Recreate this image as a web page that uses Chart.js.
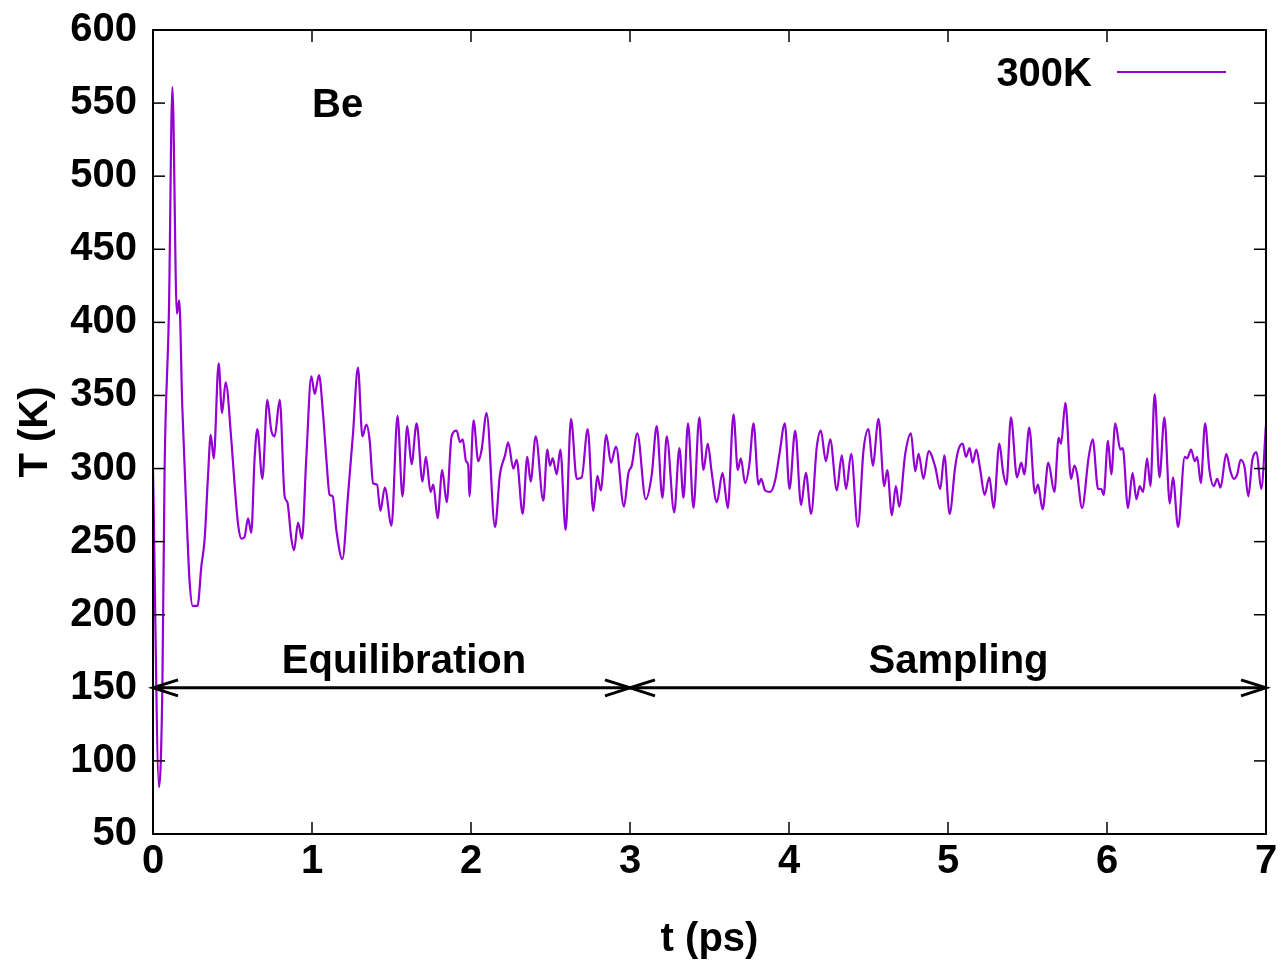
<!DOCTYPE html>
<html>
<head>
<meta charset="utf-8">
<script src="https://cdn.jsdelivr.net/npm/chart.js@4.4.0/dist/chart.umd.min.js"></script>
<style>
body { margin: 0; background: #fff; }
#caja { width: 1282px; height: 961px; }
</style>
</head>
<body>
<div id="caja"><canvas id="grafico"></canvas></div>
<script>
// Datos (t en ps, T en K)
var tiempos = [0.000, 0.038, 0.059, 0.073, 0.100, 0.122, 0.150, 0.165, 0.184, 0.210, 0.230, 0.250, 0.280, 0.304, 0.325, 0.346, 0.363, 0.382, 0.413, 0.434,
    0.457, 0.493, 0.514, 0.535, 0.556, 0.575, 0.598, 0.618, 0.639, 0.656, 0.688, 0.719, 0.744, 0.765, 0.797, 0.828, 0.845, 0.870, 0.887, 0.912,
    0.937, 0.964, 0.996, 1.017, 1.044, 1.069, 1.090, 1.111, 1.130, 1.153, 1.191, 1.226, 1.258, 1.289, 1.317, 1.342, 1.363, 1.384, 1.409, 1.430,
    1.458, 1.500, 1.538, 1.569, 1.599, 1.626, 1.658, 1.695, 1.716, 1.746, 1.763, 1.790, 1.819, 1.847, 1.878, 1.910, 1.931, 1.948, 1.969, 1.983,
    1.990, 2.016, 2.046, 2.067, 2.098, 2.151, 2.182, 2.214, 2.234, 2.266, 2.287, 2.325, 2.354, 2.375, 2.407, 2.455, 2.480, 2.497, 2.514, 2.539,
    2.562, 2.595, 2.629, 2.665, 2.696, 2.734, 2.769, 2.795, 2.816, 2.851, 2.880, 2.912, 2.962, 2.990, 3.011, 3.046, 3.099, 3.137, 3.168, 3.204,
    3.231, 3.278, 3.311, 3.336, 3.365, 3.399, 3.436, 3.462, 3.489, 3.514, 3.546, 3.582, 3.615, 3.651, 3.678, 3.697, 3.724, 3.751, 3.777, 3.808,
    3.825, 3.850, 3.882, 3.913, 3.940, 3.974, 4.003, 4.039, 4.076, 4.106, 4.139, 4.175, 4.200, 4.232, 4.259, 4.301, 4.332, 4.359, 4.391, 4.433,
    4.469, 4.500, 4.527, 4.563, 4.599, 4.618, 4.647, 4.672, 4.693, 4.731, 4.767, 4.794, 4.815, 4.846, 4.878, 4.920, 4.951, 4.977, 5.010, 5.045,
    5.066, 5.092, 5.113, 5.136, 5.155, 5.178, 5.203, 5.230, 5.260, 5.287, 5.323, 5.346, 5.367, 5.396, 5.434, 5.461, 5.480, 5.511, 5.547, 5.566,
    5.595, 5.631, 5.669, 5.696, 5.711, 5.738, 5.774, 5.795, 5.811, 5.843, 5.885, 5.910, 5.944, 5.964, 5.979, 6.006, 6.027, 6.052, 6.084, 6.099,
    6.132, 6.161, 6.185, 6.206, 6.227, 6.252, 6.273, 6.300, 6.330, 6.361, 6.395, 6.415, 6.447, 6.489, 6.504, 6.529, 6.552, 6.567, 6.590, 6.617,
    6.643, 6.672, 6.693, 6.714, 6.750, 6.777, 6.798, 6.819, 6.840, 6.865, 6.889, 6.914, 6.941, 6.970, 7.000];
var temperaturas = [300, 82, 151, 300, 406, 561, 406, 415, 343, 271, 223, 206, 206, 233, 252, 295, 323, 307, 372, 338,
    359, 319, 288, 262, 252, 253, 266, 256, 307, 327, 293, 347, 326, 322, 347, 281, 277, 252, 244, 263,
    252, 307, 363, 351, 364, 338, 307, 282, 281, 258, 238, 281, 324, 369, 322, 330, 319, 290, 289, 271,
    287, 261, 336, 281, 329, 303, 331, 291, 308, 284, 289, 266, 299, 277, 322, 326, 318, 320, 305, 302,
    281, 333, 305, 313, 338, 260, 296, 309, 318, 300, 306, 269, 308, 291, 322, 278, 313, 302, 307, 296,
    313, 258, 334, 293, 294, 327, 271, 295, 285, 323, 304, 315, 274, 297, 302, 324, 279, 296, 329, 280,
    322, 270, 314, 280, 331, 273, 335, 299, 317, 297, 277, 297, 273, 337, 299, 307, 290, 303, 331, 289,
    293, 285, 284, 292, 310, 331, 286, 326, 275, 297, 269, 315, 326, 305, 320, 285, 309, 286, 310, 260,
    313, 327, 302, 334, 288, 299, 268, 288, 274, 310, 324, 298, 310, 293, 312, 301, 286, 309, 269, 301,
    313, 317, 308, 314, 304, 313, 299, 282, 294, 273, 317, 298, 289, 335, 294, 304, 296, 328, 283, 289,
    272, 304, 284, 321, 317, 345, 293, 302, 297, 273, 308, 320, 286, 286, 282, 319, 296, 331, 313, 314,
    273, 297, 279, 288, 284, 307, 288, 351, 294, 335, 276, 294, 260, 308, 307, 313, 305, 308, 290, 331,
    300, 288, 293, 287, 310, 298, 293, 296, 306, 301, 281, 306, 311, 286, 330];
var ticksX = [0, 1, 2, 3, 4, 5, 6, 7];
var ticksY = [50, 100, 150, 200, 250, 300, 350, 400, 450, 500, 550, 600];
var nombreSerie = '300K';

var morado = '#9400D3';
var fuente = '"Liberation Sans", Arial, sans-serif';

var puntos = [];
for (var i = 0; i < tiempos.length; i++) {
    puntos.push({ x: tiempos[i], y: temperaturas[i] });
}

function linea(ctx, x1, y1, x2, y2) {
    ctx.beginPath();
    ctx.moveTo(x1, y1);
    ctx.lineTo(x2, y2);
    ctx.stroke();
}

function flecha(ctx, xp, yp, dir) {//punta abierta, dir = -1 izquierda, 1 derecha
    ctx.beginPath();
    ctx.moveTo(xp - dir * 25, yp - 8);
    ctx.lineTo(xp, yp);
    ctx.lineTo(xp - dir * 25, yp + 8);
    ctx.stroke();
}

// Marco, ticks hacia dentro, flechas, textos y leyenda
var extras = {
    id: 'extras',
    afterDatasetsDraw: function (chart) {
        var ctx = chart.ctx, a = chart.chartArea;
        var sx = chart.scales.x, sy = chart.scales.y;
        ctx.save();
        ctx.strokeStyle = '#000';
        ctx.lineWidth = 1.5;
        ticksX.forEach(function (v) {
            var x = sx.getPixelForValue(v);
            linea(ctx, x, a.bottom, x, a.bottom - 12);
            linea(ctx, x, a.top, x, a.top + 12);
        });
        ticksY.forEach(function (v) {
            var y = sy.getPixelForValue(v);
            linea(ctx, a.left, y, a.left + 12, y);
            linea(ctx, a.right, y, a.right - 12, y);
        });
        ctx.lineWidth = 2;
        ctx.strokeRect(a.left, a.top, a.right - a.left, a.bottom - a.top);

        // flechas de las fases
        var y150 = sy.getPixelForValue(150);
        var x0 = sx.getPixelForValue(0), x3 = sx.getPixelForValue(3), x7 = sx.getPixelForValue(7);
        ctx.lineWidth = 3;
        linea(ctx, x0, y150, x3, y150);
        linea(ctx, x3, y150, x7, y150);
        flecha(ctx, x0, y150, -1);
        flecha(ctx, x3, y150, 1);
        flecha(ctx, x3, y150, -1);
        flecha(ctx, x7, y150, 1);

        ctx.fillStyle = '#000';
        ctx.font = 'bold 40px ' + fuente;
        ctx.textBaseline = 'middle';
        ctx.textAlign = 'left';
        ctx.fillText('Be', sx.getPixelForValue(1), sy.getPixelForValue(550) + 3);
        ctx.fillText('Equilibration', sx.getPixelForValue(0.81), sy.getPixelForValue(170) + 3);
        ctx.fillText('Sampling', sx.getPixelForValue(4.5), sy.getPixelForValue(170) + 3);

        // leyenda
        var yl = a.top + 42;
        ctx.textAlign = 'right';
        ctx.fillText(nombreSerie, a.right - 174, yl + 3);
        ctx.strokeStyle = morado;
        ctx.lineWidth = 2;
        linea(ctx, a.right - 149, yl, a.right - 40, yl);
        ctx.restore();
    }
};

var grafico = new Chart(document.getElementById('grafico'), {
    type: 'line',
    data: {
        datasets: [{
            label: nombreSerie,
            data: puntos,
            borderColor: morado,
            borderWidth: 2.2,
            pointRadius: 0,
            fill: false,
            cubicInterpolationMode: 'monotone'
        }]
    },
    options: {
        responsive: true,
        maintainAspectRatio: false,
        animation: false,
        devicePixelRatio: 1,
        layout: { padding: { left: 0, right: 16, top: 30, bottom: 0 } },
        plugins: { legend: { display: false }, tooltip: { enabled: false } },
        scales: {
            x: {
                type: 'linear',
                min: 0,
                max: 7,
                afterBuildTicks: function (s) { s.ticks = ticksX.map(function (v) { return { value: v }; }); },
                afterFit: function (s) { s.height = 127; s.paddingLeft = 0; s.paddingRight = 0; },
                grid: { display: false, drawTicks: false, tickLength: 0 },
                border: { display: false },
                ticks: { color: '#000', padding: 4, maxRotation: 0, font: { family: fuente, size: 40, weight: 'bold' } },
                title: { display: true, text: 't (ps)', color: '#000', padding: { top: 0, bottom: -3 }, font: { family: fuente, size: 40, weight: 'bold' } }
            },
            y: {
                min: 50,
                max: 600,
                afterBuildTicks: function (s) { s.ticks = ticksY.map(function (v) { return { value: v }; }); },
                afterFit: function (s) { s.width = 153; s.paddingTop = 0; s.paddingBottom = 0; },
                grid: { display: false, drawTicks: false, tickLength: 0 },
                border: { display: false },
                ticks: { color: '#000', padding: 16, font: { family: fuente, size: 40, weight: 'bold' } },
                title: { display: true, text: 'T (K)', color: '#000', padding: { top: 12, bottom: 0 }, font: { family: fuente, size: 40, weight: 'bold' } }
            }
        }
    },
    plugins: [extras]
});
</script>
</body>
</html>
